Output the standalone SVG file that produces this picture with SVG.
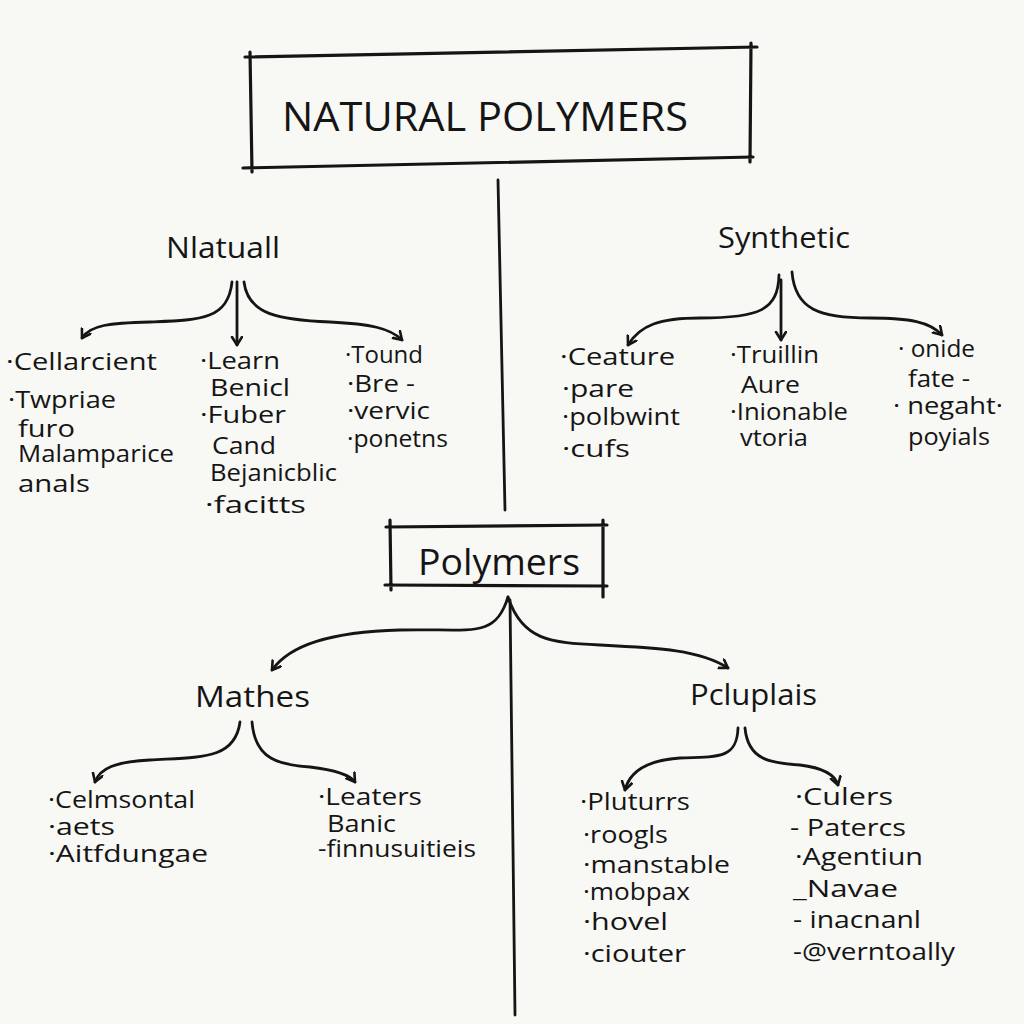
<svg xmlns="http://www.w3.org/2000/svg" width="1024" height="1024" viewBox="0 0 1024 1024">
<defs>
<marker id="arr" markerWidth="14" markerHeight="14" refX="9" refY="6" orient="auto" markerUnits="userSpaceOnUse">
<path d="M1,1 L9,6 L1,11" fill="none" stroke="#151515" stroke-width="2.6" stroke-linecap="round" stroke-linejoin="round"/>
</marker>
<style>
.ln{fill:none;stroke:#151515;stroke-width:2.8;stroke-linecap:round}
.bx{fill:none;stroke:#151515;stroke-width:3.2;stroke-linecap:round}
.t{font-family:"Open Sans","Liberation Sans",sans-serif;fill:#151515;font-size:23px}
.h{font-family:"Open Sans","Liberation Sans",sans-serif;fill:#151515;font-size:30px}
</style>
</defs>
<rect width="1024" height="1024" fill="#f8f8f5"/>

<g id="connectors">
<path class="ln" d="M498,180 L505,510"/>
<path class="ln" d="M510,600 L515,1015"/>
<path class="ln" marker-end="url(#arr)" d="M232,282 C228,320 200,320 150,322 C110,323 90,325 82,338"/>
<path class="ln" marker-end="url(#arr)" d="M237,282 L237,345"/>
<path class="ln" marker-end="url(#arr)" d="M244,282 C248,315 280,320 330,322 C370,324 390,328 402,340"/>
<path class="ln" marker-end="url(#arr)" d="M779,275 C778,310 760,318 700,318 C660,318 640,325 628,345"/>
<path class="ln" marker-end="url(#arr)" d="M781,280 L781,340"/>
<path class="ln" marker-end="url(#arr)" d="M792,272 C795,310 820,318 870,318 C910,318 930,322 942,335"/>
<path class="ln" marker-end="url(#arr)" d="M508,597 C495,640 470,628 400,630 C330,632 290,645 272,670"/>
<path class="ln" marker-end="url(#arr)" d="M508,597 C522,640 550,643 600,645 C660,648 700,650 728,668"/>
<path class="ln" marker-end="url(#arr)" d="M240,722 C235,760 200,757 150,760 C115,762 100,768 95,782"/>
<path class="ln" marker-end="url(#arr)" d="M252,722 C255,760 280,765 310,767 C335,770 350,775 355,782"/>
<path class="ln" marker-end="url(#arr)" d="M738,728 C737,758 720,757 680,758 C650,760 630,770 625,790"/>
<path class="ln" marker-end="url(#arr)" d="M745,728 C748,760 770,763 800,765 C825,768 835,775 838,785"/>
</g>

<g id="title">
<path class="bx" d="M245,57 L757,47 M243,168 L753,157 M250,52 L252,172 M751,43 L750,162"/>
<text x="282" y="131" textLength="406" lengthAdjust="spacingAndGlyphs" style="font-family:'Open Sans','Liberation Sans',sans-serif;font-size:40px;fill:#151515">NATURAL POLYMERS</text>
</g>

<g id="natural">
<text class="h" x="166" y="258" textLength="114" lengthAdjust="spacingAndGlyphs">Nlatuall</text>
<text class="t" x="6" y="370" textLength="151" lengthAdjust="spacingAndGlyphs">·Cellarcient</text>
<text class="t" x="8" y="408" textLength="108" lengthAdjust="spacingAndGlyphs">·Twpriae</text>
<text class="t" x="18" y="437" textLength="57" lengthAdjust="spacingAndGlyphs">furo</text>
<text class="t" x="18" y="462" textLength="156" lengthAdjust="spacingAndGlyphs">Malamparice</text>
<text class="t" x="18" y="492" textLength="72" lengthAdjust="spacingAndGlyphs">anals</text>
<text class="t" x="200" y="369" textLength="80" lengthAdjust="spacingAndGlyphs">·Learn</text>
<text class="t" x="210" y="396" textLength="80" lengthAdjust="spacingAndGlyphs">Benicl</text>
<text class="t" x="200" y="423" textLength="86" lengthAdjust="spacingAndGlyphs">·Fuber</text>
<text class="t" x="212" y="454" textLength="64" lengthAdjust="spacingAndGlyphs">Cand</text>
<text class="t" x="210" y="481" textLength="127" lengthAdjust="spacingAndGlyphs">Bejanicblic</text>
<text class="t" x="205" y="513" textLength="101" lengthAdjust="spacingAndGlyphs">·facitts</text>
<text class="t" x="345" y="363" textLength="78" lengthAdjust="spacingAndGlyphs">·Tound</text>
<text class="t" x="347" y="392" textLength="68" lengthAdjust="spacingAndGlyphs">·Bre -</text>
<text class="t" x="347" y="419" textLength="83" lengthAdjust="spacingAndGlyphs">·vervic</text>
<text class="t" x="347" y="447" textLength="101" lengthAdjust="spacingAndGlyphs">·ponetns</text>
</g>

<g id="synthetic">
<text class="h" x="718" y="248" textLength="132" lengthAdjust="spacingAndGlyphs">Synthetic</text>
<text class="t" x="560" y="365" textLength="115" lengthAdjust="spacingAndGlyphs">·Ceature</text>
<text class="t" x="562" y="397" textLength="72" lengthAdjust="spacingAndGlyphs">·pare</text>
<text class="t" x="562" y="425" textLength="118" lengthAdjust="spacingAndGlyphs">·polbwint</text>
<text class="t" x="562" y="457" textLength="68" lengthAdjust="spacingAndGlyphs">·cufs</text>
<text class="t" x="730" y="363" textLength="89" lengthAdjust="spacingAndGlyphs">·Truillin</text>
<text class="t" x="741" y="393" textLength="59" lengthAdjust="spacingAndGlyphs">Aure</text>
<text class="t" x="730" y="420" textLength="118" lengthAdjust="spacingAndGlyphs">·Inionable</text>
<text class="t" x="740" y="446" textLength="68" lengthAdjust="spacingAndGlyphs">vtoria</text>
<text class="t" x="898" y="357" textLength="77" lengthAdjust="spacingAndGlyphs">· onide</text>
<text class="t" x="908" y="387" textLength="62" lengthAdjust="spacingAndGlyphs">fate -</text>
<text class="t" x="893" y="414" textLength="110" lengthAdjust="spacingAndGlyphs">· negaht·</text>
<text class="t" x="908" y="445" textLength="82" lengthAdjust="spacingAndGlyphs">poyials</text>
</g>

<g id="polymers">
<path class="bx" d="M386,527 L607,525 M385,585 L607,586 M390,520 L391,590 M603,520 L603,597"/>
<text x="418" y="575" textLength="162" lengthAdjust="spacingAndGlyphs" style="font-family:'Open Sans','Liberation Sans',sans-serif;font-size:36px;fill:#151515">Polymers</text>
</g>

<g id="mathes">
<text class="h" x="195" y="707" textLength="115" lengthAdjust="spacingAndGlyphs">Mathes</text>
<text class="t" x="48" y="808" textLength="147" lengthAdjust="spacingAndGlyphs">·Celmsontal</text>
<text class="t" x="48" y="835" textLength="67" lengthAdjust="spacingAndGlyphs">·aets</text>
<text class="t" x="48" y="862" textLength="160" lengthAdjust="spacingAndGlyphs">·Aitfdungae</text>
<text class="t" x="318" y="805" textLength="104" lengthAdjust="spacingAndGlyphs">·Leaters</text>
<text class="t" x="327" y="832" textLength="69" lengthAdjust="spacingAndGlyphs">Banic</text>
<text class="t" x="318" y="857" textLength="158" lengthAdjust="spacingAndGlyphs">-finnusuitieis</text>
</g>

<g id="pcluplais">
<text class="h" x="690" y="705" textLength="127" lengthAdjust="spacingAndGlyphs">Pcluplais</text>
<text class="t" x="580" y="810" textLength="110" lengthAdjust="spacingAndGlyphs">·Pluturrs</text>
<text class="t" x="583" y="843" textLength="85" lengthAdjust="spacingAndGlyphs">·roogls</text>
<text class="t" x="583" y="873" textLength="147" lengthAdjust="spacingAndGlyphs">·manstable</text>
<text class="t" x="583" y="900" textLength="107" lengthAdjust="spacingAndGlyphs">·mobpax</text>
<text class="t" x="583" y="930" textLength="85" lengthAdjust="spacingAndGlyphs">·hovel</text>
<text class="t" x="583" y="962" textLength="103" lengthAdjust="spacingAndGlyphs">·ciouter</text>
<text class="t" x="795" y="805" textLength="98" lengthAdjust="spacingAndGlyphs">·Culers</text>
<text class="t" x="790" y="836" textLength="116" lengthAdjust="spacingAndGlyphs">- Patercs</text>
<text class="t" x="795" y="865" textLength="128" lengthAdjust="spacingAndGlyphs">·Agentiun</text>
<text class="t" x="793" y="897" textLength="105" lengthAdjust="spacingAndGlyphs">_Navae</text>
<text class="t" x="793" y="928" textLength="128" lengthAdjust="spacingAndGlyphs">- inacnanl</text>
<text class="t" x="793" y="960" textLength="162" lengthAdjust="spacingAndGlyphs">-@verntoally</text>
</g>
</svg>
